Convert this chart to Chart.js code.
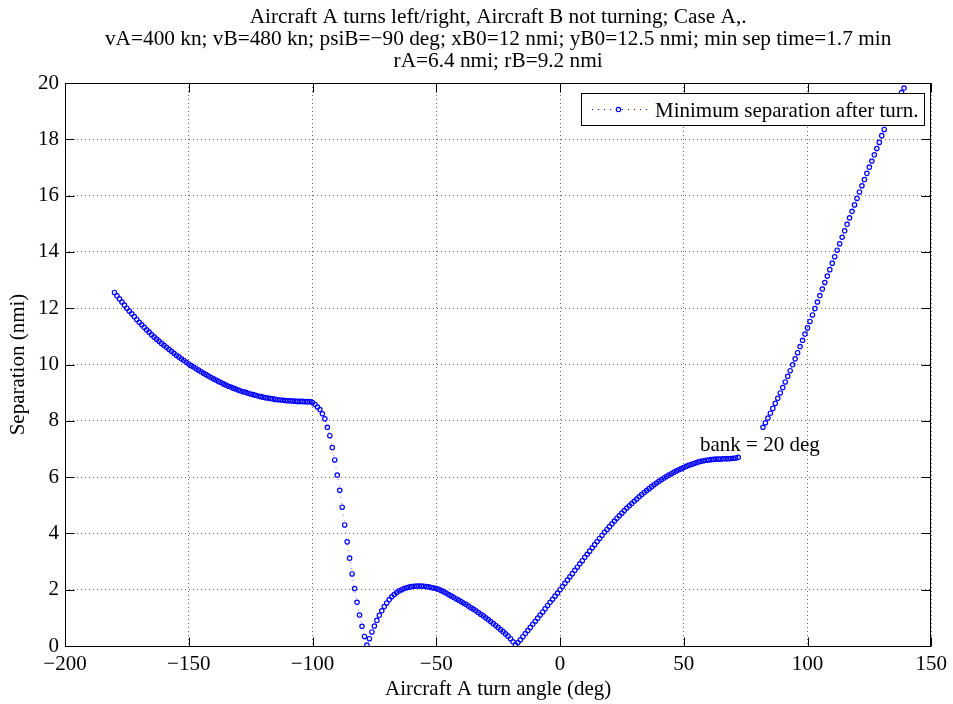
<!DOCTYPE html>
<html>
<head>
<meta charset="utf-8">
<script src="https://cdn.jsdelivr.net/npm/chart.js@4.4.0/dist/chart.umd.min.js"></script>
<style>
  html, body { margin: 0; padding: 0; background: #fff; }
  #wrap { width: 953px; height: 704px; }
</style>
</head>
<body>
<div id="wrap"><canvas id="sepChart" width="953" height="704"></canvas></div>
<script>
// turn angle runs -180..139 deg in 1 deg steps
const turnAngles = [];
for (let a = -180; a <= 139; a++) turnAngles.push(a);

// minimum separation (nmi); null = not shown
const separation = [
  12.56, 12.44, 12.33, 12.22, 12.11, 12.00, 11.90, 11.80, 11.70, 11.60,
  11.50, 11.41, 11.32, 11.23, 11.15, 11.06, 10.98, 10.90, 10.83, 10.75,
  10.68, 10.61, 10.54, 10.47, 10.40, 10.33, 10.27, 10.20, 10.14, 10.08,
  10.02, 9.96, 9.91, 9.85, 9.80, 9.74, 9.69, 9.64, 9.59, 9.54,
  9.49, 9.45, 9.40, 9.36, 9.31, 9.27, 9.23, 9.20, 9.16, 9.13,
  9.09, 9.06, 9.03, 9.01, 8.98, 8.95, 8.93, 8.91, 8.88, 8.86,
  8.84, 8.82, 8.81, 8.79, 8.78, 8.76, 8.75, 8.74, 8.73, 8.72,
  8.71, 8.71, 8.70, 8.70, 8.69, 8.69, 8.69, 8.68, 8.68, 8.68,
  // -100 .. -78
  8.65, 8.58, 8.49, 8.40, 8.25, 8.07, 7.77, 7.47, 7.05, 6.61,
  6.07, 5.53, 4.93, 4.30, 3.70, 3.12, 2.56, 2.04, 1.55, 1.10,
  0.70, 0.34, 0.03,
  // -77 .. -18
  0.26, 0.50, 0.71, 0.91, 1.09, 1.25, 1.40, 1.53, 1.65, 1.75,
  1.83, 1.90, 1.96, 2.00, 2.04, 2.07, 2.09, 2.11, 2.12, 2.13,
  2.13, 2.13, 2.12, 2.11, 2.10, 2.08, 2.06, 2.04, 2.01, 1.97,
  1.93, 1.88, 1.83, 1.78, 1.73, 1.68, 1.63, 1.58, 1.53, 1.48,
  1.42, 1.36, 1.31, 1.25, 1.19, 1.13, 1.07, 1.00, 0.94, 0.87,
  0.80, 0.73, 0.66, 0.58, 0.51, 0.43, 0.35, 0.26, 0.15, 0.03,
  // -17 .. 72
  0.12, 0.22, 0.33, 0.44, 0.55, 0.66, 0.77, 0.88, 0.99, 1.10,
  1.21, 1.32, 1.44, 1.55, 1.66, 1.77, 1.88, 2.00, 2.11, 2.23,
  2.34, 2.46, 2.57, 2.69, 2.80, 2.92, 3.03, 3.15, 3.26, 3.37,
  3.49, 3.60, 3.71, 3.82, 3.93, 4.04, 4.14, 4.24, 4.34, 4.44,
  4.54, 4.63, 4.72, 4.81, 4.90, 4.98, 5.06, 5.14, 5.22, 5.30,
  5.38, 5.45, 5.52, 5.59, 5.66, 5.73, 5.79, 5.85, 5.91, 5.97,
  6.02, 6.07, 6.12, 6.17, 6.22, 6.26, 6.30, 6.34, 6.38, 6.42,
  6.45, 6.48, 6.51, 6.54, 6.56, 6.58, 6.60, 6.61, 6.62, 6.63,
  6.64, 6.64, 6.64, 6.65, 6.65, 6.65, 6.66, 6.67, 6.68, 6.70,
  // 73 .. 81 (gap)
  null, null, null, null, null, null, null, null, null,
  // 82 .. 139
  7.77, 7.93, 8.10, 8.27, 8.44, 8.62, 8.80, 8.99,
  9.18, 9.38, 9.58, 9.78, 9.99, 10.20, 10.42, 10.64, 10.86, 11.08,
  11.30, 11.53, 11.76, 11.99, 12.22, 12.45, 12.68, 12.91, 13.14, 13.37,
  13.60, 13.83, 14.06, 14.29, 14.52, 14.75, 14.98, 15.21, 15.44, 15.67,
  15.90, 16.13, 16.35, 16.57, 16.79, 17.01, 17.23, 17.45, 17.67, 17.89,
  18.13, 18.35, 18.57, 18.80, 19.00, 19.17, 19.34, 19.50, 19.66, 19.82
];

const xTicks = [-200, -150, -100, -50, 0, 50, 100, 150];
const yTicks = [0, 2, 4, 6, 8, 10, 12, 14, 16, 18, 20];

const titleLines = [
  "Aircraft A turns left/right, Aircraft B not turning; Case A,.",
  "vA=400 kn; vB=480 kn; psiB=\u221290 deg; xB0=12 nmi; yB0=12.5 nmi; min sep time=1.7 min",
  "rA=6.4 nmi; rB=9.2 nmi"
];
const legendLabel = "Minimum separation after turn.";
const noteText = "bank = 20 deg";

const serif = '"Liberation Serif", "Times New Roman", serif';
const blue = "#0000ff";

// title centred over the axes, box, inward ticks, note and legend
const matlabAxes = {
  id: "matlabAxes",
  afterDatasetsDraw(chart) {
    const { ctx, chartArea: a, scales: { x, y } } = chart;
    const L = Math.round(a.left) + 0.5, R = Math.round(a.right) - 0.5;
    const T = Math.round(a.top) + 0.5, B = Math.round(a.bottom) + 0.5;
    ctx.save();
    ctx.strokeStyle = "#000";
    ctx.lineWidth = 1;
    ctx.strokeRect(L, T, R - L, B - T);
    ctx.beginPath();
    xTicks.forEach(v => {
      const px = Math.round(x.getPixelForValue(v)) + 0.5;
      ctx.moveTo(px, B); ctx.lineTo(px, B - 9);
      ctx.moveTo(px, T); ctx.lineTo(px, T + 9);
    });
    yTicks.forEach(v => {
      const py = Math.round(y.getPixelForValue(v)) + 0.5;
      ctx.moveTo(L, py); ctx.lineTo(L + 9, py);
      ctx.moveTo(R, py); ctx.lineTo(R - 9, py);
    });
    ctx.stroke();

    ctx.fillStyle = "#000";
    ctx.textBaseline = "alphabetic";
    ctx.textAlign = "center";
    ctx.font = "21.3px " + serif;
    const cx = (a.left + a.right) / 2;
    titleLines.forEach((line, i) => ctx.fillText(line, cx, 23 + i * 22));

    ctx.font = "21px " + serif;
    ctx.textAlign = "left";
    ctx.fillText(noteText, 700, 451);

    // legend
    ctx.fillStyle = "#fff";
    ctx.fillRect(581.5, 93.5, 343, 32);
    ctx.strokeRect(581.5, 93.5, 343, 32);
    ctx.strokeStyle = blue;
    ctx.setLineDash([1, 5]);
    ctx.beginPath();
    ctx.moveTo(592, 109.5); ctx.lineTo(647, 109.5);
    ctx.stroke();
    ctx.setLineDash([]);
    ctx.lineWidth = 1.2;
    ctx.beginPath();
    ctx.arc(618.5, 109.5, 2.2, 0, Math.PI * 2);
    ctx.stroke();
    ctx.fillStyle = "#000";
    ctx.fillText(legendLabel, 655, 117);
    ctx.restore();
  }
};

new Chart(document.getElementById("sepChart"), {
  type: "line",
  data: {
    labels: turnAngles,
    datasets: [{
      label: legendLabel,
      data: separation,
      borderColor: "rgba(0,0,255,0.55)",
      borderWidth: 1,
      borderDash: [1, 5],
      pointStyle: "circle",
      pointRadius: 2.2,
      pointBorderWidth: 1.2,
      pointBorderColor: blue,
      pointBackgroundColor: "rgba(0,0,0,0)",
      spanGaps: false,
      tension: 0
    }]
  },
  options: {
    responsive: false,
    animation: false,
    devicePixelRatio: 1,
    layout: { padding: { left: 0, right: 21, top: 83, bottom: 0 } },
    plugins: {
      legend: { display: false },
      tooltip: { enabled: false },
      title: { display: false }
    },
    scales: {
      x: {
        type: "linear",
        min: -200,
        max: 150,
        afterFit: s => { s.height = 58; },
        afterBuildTicks: s => { s.ticks = xTicks.map(v => ({ value: v })); },
        grid: { color: "rgba(0,0,0,0.6)", lineWidth: 1, drawTicks: false },
        border: { display: false, dash: [1, 3] },
        ticks: {
          autoSkip: false,
          maxRotation: 0,
          padding: 6,
          color: "#000",
          font: { family: serif, size: 21 },
          callback: v => String(v).replace("-", "\u2212")
        },
        title: {
          display: true,
          text: "Aircraft A turn angle (deg)",
          color: "#000",
          font: { family: serif, size: 21 },
          padding: { top: 0, bottom: 2 }
        }
      },
      y: {
        min: 0,
        max: 20,
        afterFit: s => { s.width = 65; },
        afterBuildTicks: s => { s.ticks = yTicks.map(v => ({ value: v })); },
        grid: { color: "rgba(0,0,0,0.6)", lineWidth: 1, drawTicks: false },
        border: { display: false, dash: [1, 3] },
        ticks: {
          padding: 6,
          color: "#000",
          font: { family: serif, size: 21 }
        },
        title: {
          display: true,
          text: "Separation (nmi)",
          color: "#000",
          font: { family: serif, size: 21 },
          padding: { top: 6, bottom: 0 }
        }
      }
    }
  },
  plugins: [matlabAxes]
});
</script>
</body>
</html>
